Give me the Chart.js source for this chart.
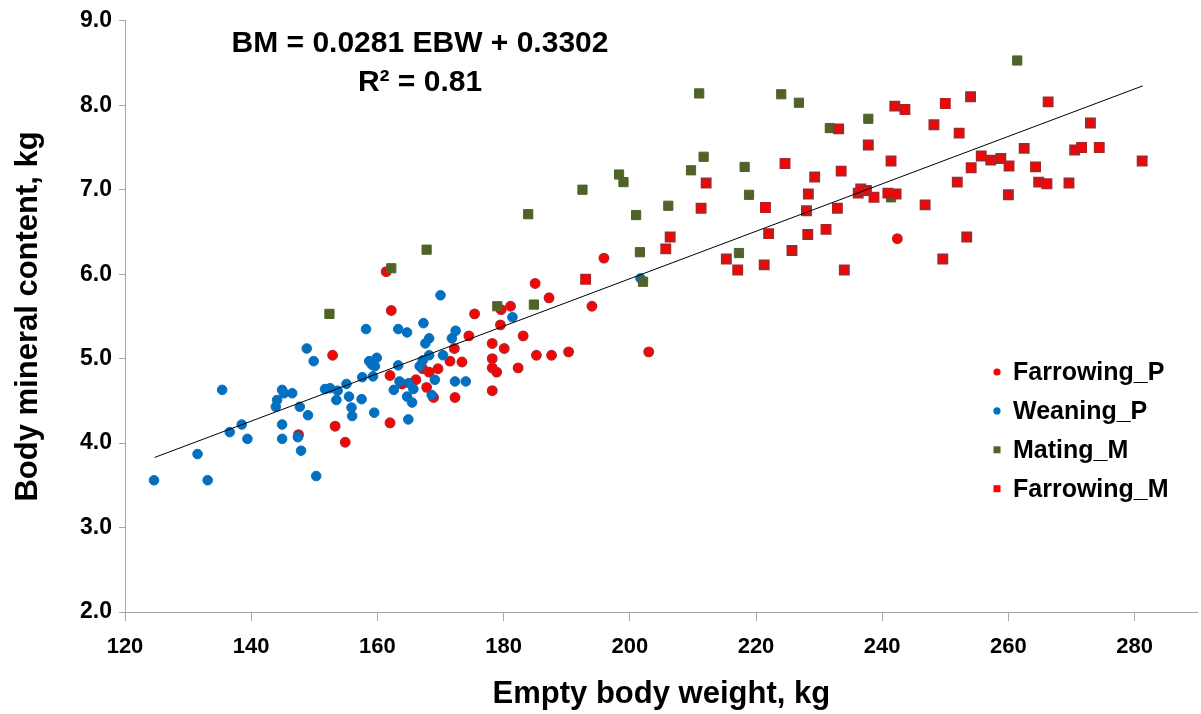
<!DOCTYPE html>
<html>
<head>
<meta charset="utf-8">
<script src="https://cdn.jsdelivr.net/npm/chart.js@4"></script>
<style>
  html, body { margin: 0; padding: 0; background: #fff; overflow: hidden; }
  #wrap { width: 1206px; height: 714px; }
</style>
</head>
<body>
<div id="wrap"><canvas id="chart" width="1206" height="714"></canvas></div>
<script>
// --------------------------------------------------------------------------
// Data
// --------------------------------------------------------------------------
const seriesNames = ['Farrowing_P', 'Weaning_P', 'Mating_M', 'Farrowing_M'];

const farrowingPX = [147.5, 152.9, 153.3, 154.9, 161.4, 162.2, 162.0, 162.0, 163.9, 166.1, 167.2, 167.8, 168.2, 168.9, 169.6,
  171.5, 172.2, 172.3, 173.4, 174.5, 175.4, 178.2, 178.2, 178.2, 178.2, 178.9, 179.5, 179.6, 180.1, 181.1, 182.3, 183.1,
  185.0, 185.2, 187.2, 187.6, 190.3, 194.0, 195.9, 203.0, 242.4];
const farrowingPY = [4.10, 5.04, 4.20, 4.01, 6.03, 5.57, 4.80, 4.24, 4.70, 4.75, 4.88, 4.66, 4.84, 4.54, 4.88,
  4.97, 5.12, 4.54, 4.96, 5.27, 5.53, 5.18, 5.00, 4.89, 4.62, 4.84, 5.40, 5.58, 5.12, 5.62, 4.89, 5.27,
  5.89, 5.04, 5.72, 5.04, 5.08, 5.62, 6.19, 5.08, 6.42];

const weaningPX = [124.6, 131.5, 133.1, 135.4, 136.6, 138.5, 139.4, 143.9, 144.1, 144.9, 145.2, 144.9, 144.9, 146.5, 147.4,
  147.7, 147.9, 148.8, 149.0, 149.9, 150.3, 151.7, 152.5, 153.5, 153.7, 155.1, 155.5, 155.9, 156.0, 157.5, 157.6, 158.2,
  158.7, 159.1, 159.3, 159.5, 159.6, 159.9, 162.6, 163.3, 163.3, 163.5, 164.7, 164.7, 164.9, 165.0, 165.5, 165.7, 166.7,
  167.2, 167.3, 167.6, 168.2, 168.2, 168.6, 169.1, 170.0, 170.4, 171.8, 172.3, 172.4, 174.0, 181.4, 201.7];
const weaningPY = [3.56, 3.87, 3.56, 4.63, 4.13, 4.22, 4.05, 4.43, 4.51, 4.63, 4.59, 4.22, 4.05, 4.59, 4.07,
  4.43, 3.91, 5.12, 4.33, 4.97, 3.61, 4.64, 4.65, 4.51, 4.62, 4.70, 4.55, 4.42, 4.32, 4.52, 4.78, 5.35,
  4.97, 4.93, 4.79, 4.36, 4.91, 5.01, 4.63, 5.35, 4.92, 4.73, 5.31, 4.55, 4.28, 4.71, 4.48, 4.64, 4.91,
  4.98, 5.42, 5.18, 5.24, 5.04, 4.57, 4.75, 5.75, 5.04, 5.24, 4.73, 5.33, 4.73, 5.49, 5.95];

const matingMX = [152.4, 162.2, 167.8, 179.0, 183.9, 184.8, 192.5, 198.3, 199.0, 201.0, 201.6, 202.1, 206.1, 209.7,
  211.0, 211.7, 217.3, 218.2, 218.9, 224.0, 226.8, 231.7, 237.8, 241.4, 261.4];
const matingMY = [5.53, 6.07, 6.29, 5.62, 6.71, 5.64, 7.00, 7.18, 7.09, 6.70, 6.26, 5.91, 6.81, 7.23,
  8.14, 7.39, 6.25, 7.27, 6.94, 8.13, 8.03, 7.73, 7.84, 6.91, 8.53];

const farrowingMX = [193.0, 205.7, 206.4, 211.3, 212.1, 215.3, 217.1, 221.3, 221.5, 222.0, 224.6, 225.7, 228.0, 228.2,
  228.3, 229.3, 231.1, 232.9, 233.1, 233.5, 234.0, 236.2, 236.6, 237.5, 237.8, 238.7, 240.9, 241.4, 242.0, 242.2,
  243.6, 246.8, 248.2, 249.6, 250.0, 251.9, 252.2, 253.4, 254.0, 254.1, 255.7, 257.2, 258.8, 260.0, 260.1, 262.5,
  264.3, 264.8, 266.1, 266.3, 269.6, 270.5, 271.6, 273.0, 274.4, 281.2];
const farrowingMY = [5.94, 6.30, 6.44, 6.78, 7.08, 6.18, 6.05, 6.11, 6.79, 6.48, 7.31, 6.28, 6.75, 6.47,
  6.95, 7.15, 6.53, 6.78, 7.72, 7.22, 6.05, 6.96, 7.01, 6.99, 7.53, 6.91, 6.96, 7.34, 7.99, 6.95,
  7.95, 6.82, 7.77, 6.18, 8.02, 7.09, 7.67, 6.44, 8.10, 7.26, 7.40, 7.35, 7.37, 6.94, 7.28, 7.49,
  7.27, 7.09, 7.07, 8.04, 7.08, 7.47, 7.50, 7.79, 7.50, 7.34];

// trend line end points as seen in the picture
const trendX = [124.7, 281.3];
const trendY = [3.83, 8.23];

const xTicks = [120, 140, 160, 180, 200, 220, 240, 260, 280];
const yTicks = [2, 3, 4, 5, 6, 7, 8, 9];

const equationText = 'BM = 0.0281 EBW + 0.3302';
const r2Text = 'R\u00B2 = 0.81';
const xTitle = 'Empty body weight, kg';
const yTitle = 'Body mineral content, kg';

// --------------------------------------------------------------------------
// Helpers / styles
// --------------------------------------------------------------------------
const FONT = '"Liberation Sans", Arial, sans-serif';
const AXIS_GREY = '#a6a6a6';
const zip = (xs, ys) => xs.map((x, i) => ({ x: x, y: ys[i] }));

const datasets = [
  {
    label: seriesNames[0], data: zip(farrowingPX, farrowingPY), order: 4,
    pointStyle: 'circle', pointRadius: 4.7, backgroundColor: '#ff0000', borderColor: '#b3262b', borderWidth: 1.5
  },
  {
    label: seriesNames[1], data: zip(weaningPX, weaningPY), order: 3,
    pointStyle: 'circle', pointRadius: 4.8, backgroundColor: '#0070c0', borderColor: '#0a6fbe', borderWidth: 1
  },
  {
    label: seriesNames[2], data: zip(matingMX, matingMY), order: 2,
    pointStyle: 'rect', pointRadius: 6.5, backgroundColor: '#4f6228', borderColor: '#4f6228', borderWidth: 1
  },
  {
    label: seriesNames[3], data: zip(farrowingMX, farrowingMY), order: 1,
    pointStyle: 'rect', pointRadius: 6.3, backgroundColor: '#ff0000', borderColor: '#a3282c', borderWidth: 2
  },
  {
    label: 'trend', type: 'line', data: zip(trendX, trendY), order: 0,
    borderColor: '#000000', borderWidth: 1, pointRadius: 0, fill: false, tension: 0
  }
];

// legend and regression text drawn on top of the plot
const overlayPlugin = {
  id: 'overlay',
  afterDraw(chart) {
    const ctx = chart.ctx;
    ctx.save();
    ctx.fillStyle = '#000';
    ctx.font = 'bold 30px ' + FONT;
    ctx.textAlign = 'center';
    ctx.textBaseline = 'middle';
    ctx.fillText(equationText, 420, 44);
    ctx.fillText(r2Text, 420, 83);

    ctx.textAlign = 'left';
    ctx.font = 'bold 25px ' + FONT;
    for (let i = 0; i < 4; i++) {
      const ds = chart.data.datasets[i];
      const y = 372 + i * 38.9;
      const mx = 997;
      ctx.fillStyle = ds.backgroundColor;
      if (ds.pointStyle === 'circle') {
        ctx.beginPath();
        ctx.arc(mx, y, 3.6, 0, Math.PI * 2);
        ctx.fill();
      } else {
        ctx.fillRect(mx - 3.5, y - 3.5, 7, 7);
      }
      ctx.fillStyle = '#000';
      ctx.fillText(ds.label, 1013, y + 1);
    }
    ctx.restore();
  }
};

// --------------------------------------------------------------------------
// Chart
// --------------------------------------------------------------------------
const ctx = document.getElementById('chart').getContext('2d');
new Chart(ctx, {
  type: 'scatter',
  data: { datasets: datasets },
  plugins: [overlayPlugin],
  options: {
    responsive: false,
    animation: false,
    layout: { padding: { top: 17, right: 1, left: 0, bottom: 0 } },
    plugins: {
      legend: { display: false },
      tooltip: { enabled: false }
    },
    scales: {
      x: {
        type: 'linear',
        min: 120,
        max: 290,
        afterFit: s => { s.height = 102; },
        afterBuildTicks: s => { s.ticks = xTicks.map(v => ({ value: v })); },
        ticks: {
          color: '#000',
          font: { family: FONT, size: 22, weight: 'bold' },
          padding: 13,
          maxRotation: 0,
          callback: v => String(v)
        },
        grid: { drawOnChartArea: false, drawTicks: true, tickLength: 9, color: AXIS_GREY },
        border: { display: true, color: AXIS_GREY, width: 1 },
        title: {
          display: true,
          text: xTitle,
          color: '#000',
          font: { family: FONT, size: 31, weight: 'bold' },
          padding: { top: 0, bottom: 1 }
        }
      },
      y: {
        type: 'linear',
        min: 2,
        max: 9,
        afterFit: s => { s.width = 125; },
        afterBuildTicks: s => { s.ticks = yTicks.map(v => ({ value: v })); },
        ticks: {
          color: '#000',
          font: { family: FONT, size: 23, weight: 'bold' },
          padding: 7,
          callback: v => v.toFixed(1)
        },
        grid: { drawOnChartArea: false, drawTicks: true, tickLength: 6, color: AXIS_GREY },
        border: { display: true, color: AXIS_GREY, width: 1 },
        title: {
          display: true,
          text: yTitle,
          color: '#000',
          font: { family: FONT, size: 31, weight: 'bold' },
          padding: { top: 10, bottom: 0 }
        }
      }
    }
  }
});
</script>
</body>
</html>
